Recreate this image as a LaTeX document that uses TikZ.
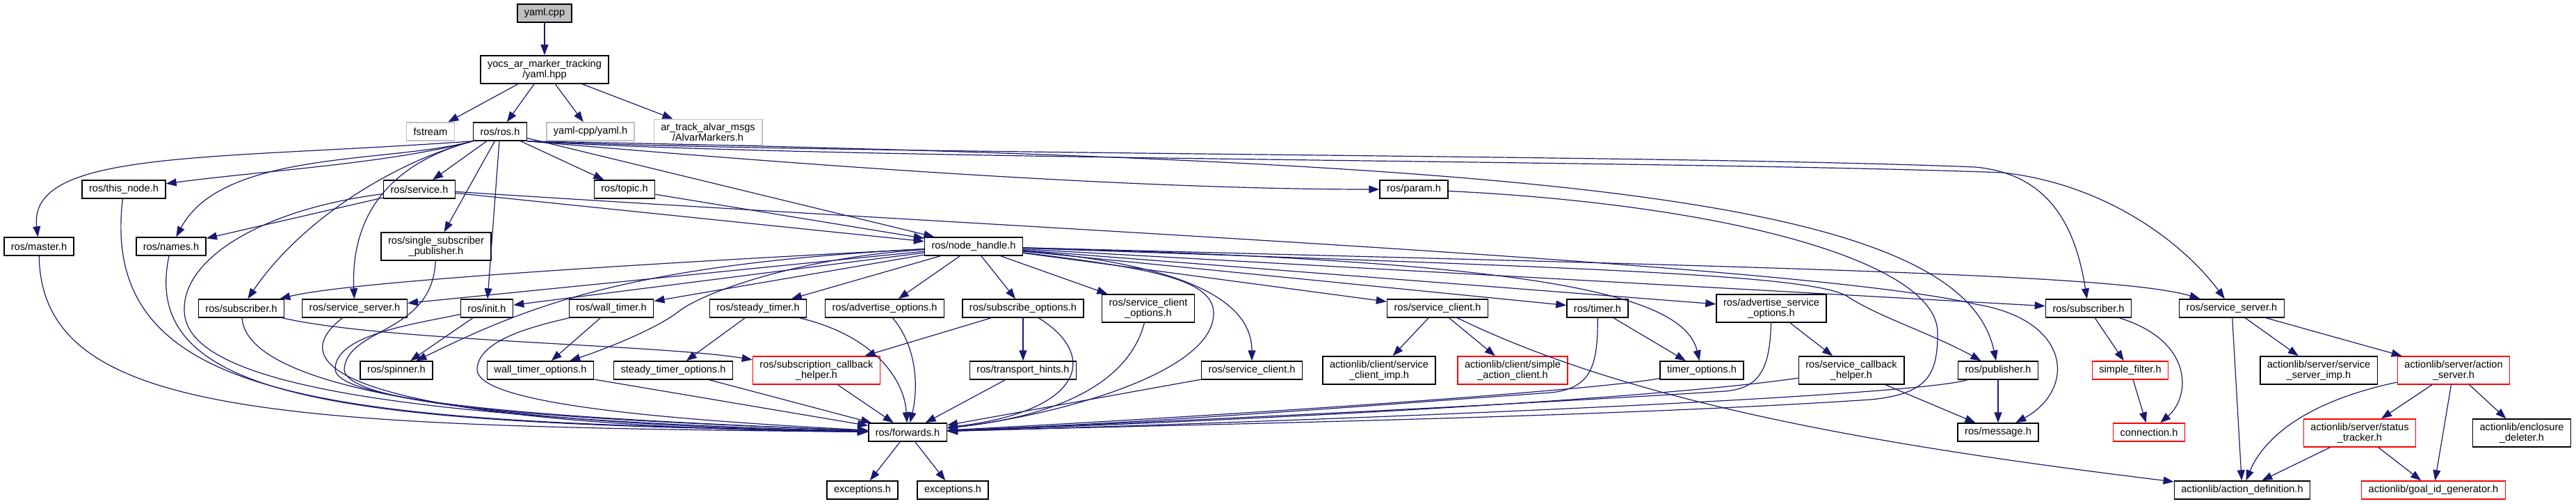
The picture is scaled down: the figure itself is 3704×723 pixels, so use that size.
\documentclass[tikz,border=0pt]{standalone}
\usepackage{fontspec}
\setmainfont{Liberation Sans}
\usetikzlibrary{arrows.meta}
\definecolor{edgeblue}{RGB}{25,25,112}
\definecolor{extgrey}{RGB}{191,191,191}

\begin{document}
\begin{tikzpicture}[
        x=1pt, y=-1pt,
        % Style for an included file
        file/.style={
            rectangle, draw=black, line width=1.5pt, fill=white,
            font=\fontsize{14.6}{14.5}\selectfont, align=center,
            inner xsep=10pt, inner ysep=6pt, minimum height=26pt
        },
        % Style for the documented file itself
        mainfile/.style={file, fill=extgrey},
        % Style for files not found by doxygen
        extfile/.style={file, draw=extgrey},
        % Style for files with a truncated graph
        redfile/.style={file, draw=red},
        inc/.style={draw=edgeblue, line width=1.2pt, -{Triangle[length=15pt, width=11pt]}}
    ]
    \useasboundingbox (0,0) rectangle (3704,723);

    % --- Nodes ---

    % top rows
    \node [mainfile] (yamlcpp) at (783,19) {yaml.cpp};
    \node [file] (yamlhpp) at (783,100) {yocs\_ar\_marker\_tracking\\/yaml.hpp};
    \node [extfile] (fstream) at (619,189) {fstream};
    \node [file] (rosros) at (719,189) {ros/ros.h};
    \node [extfile] (yamlcppyaml) at (849,189) {yaml-cpp/yaml.h};
    \node [extfile] (alvar) at (1018,190) {ar\_track\_alvar\_msgs\\/AlvarMarkers.h};

    \node [file] (thisnode) at (178,272) {ros/this\_node.h};
    \node [file] (service) at (603,272) {ros/service.h};
    \node [file] (topic) at (898,272) {ros/topic.h};
    \node [file] (param) at (2033,272) {ros/param.h};

    \node [file] (master) at (56,354) {ros/master.h};
    \node [file] (names) at (246,354) {ros/names.h};
    \node [file] (singlesub) at (627,354) {ros/single\_subscriber\\\_publisher.h};
    \node [file] (nodehandle) at (1400,354) {ros/node\_handle.h};

    % includes of ros/node_handle.h
    \node [file] (subL) at (347,443) {ros/subscriber.h};
    \node [file] (srvL) at (510,443) {ros/service\_server.h};
    \node [file] (init) at (700,443) {ros/init.h};
    \node [file] (walltimer) at (879,443) {ros/wall\_timer.h};
    \node [file] (steadytimer) at (1090,443) {ros/steady\_timer.h};
    \node [file] (advopt) at (1272,443) {ros/advertise\_options.h};
    \node [file] (subopt) at (1471,443) {ros/subscribe\_options.h};
    \node [file] (srvcliopt) at (1651,443) {ros/service\_client\\\_options.h};
    \node [file] (srvcliU) at (2067,443) {ros/service\_client.h};
    \node [file] (timer) at (2297,443) {ros/timer.h};
    \node [file] (advsrvopt) at (2547,443) {ros/advertise\_service\\\_options.h};
    \node [file] (subR) at (3003,443) {ros/subscriber.h};
    \node [file] (srvR) at (3209,443) {ros/service\_server.h};

    \node [file] (spinner) at (570,532) {ros/spinner.h};
    \node [file] (walltimeropt) at (777,532) {wall\_timer\_options.h};
    \node [file] (steadytimeropt) at (968,532) {steady\_timer\_options.h};
    \node [redfile] (subcb) at (1174,532) {ros/subscription\_callback\\\_helper.h};
    \node [file] (transport) at (1471,532) {ros/transport\_hints.h};
    \node [file] (srvcliM) at (1800,532) {ros/service\_client.h};
    \node [file] (srvcliimp) at (1983,532) {actionlib/client/service\\\_client\_imp.h};
    \node [redfile] (simpleac) at (2175,532) {actionlib/client/simple\\\_action\_client.h};
    \node [file] (timeropt) at (2447,532) {timer\_options.h};
    \node [file] (srvcb) at (2662,532) {ros/service\_callback\\\_helper.h};
    \node [file] (publisher) at (2873,532) {ros/publisher.h};
    \node [redfile] (simplefilter) at (3063,532) {simple\_filter.h};
    \node [file] (srvimp) at (3334,532) {actionlib/server/service\\\_server\_imp.h};
    \node [redfile] (actionserver) at (3528,532) {actionlib/server/action\\\_server.h};

    % bottom rows
    \node [file] (forwards) at (1305,621) {ros/forwards.h};
    \node [file] (message) at (2873,621) {ros/message.h};
    \node [redfile] (connection) at (3090,621) {connection.h};
    \node [redfile] (status) at (3393,622) {actionlib/server/status\\\_tracker.h};
    \node [file] (enclosure) at (3626,622) {actionlib/enclosure\\\_deleter.h};
    \node [file] (exc1) at (1240,704) {exceptions.h};
    \node [file] (exc2) at (1370,704) {exceptions.h};
    \node [file] (actiondef) at (3224,704) {actionlib/action\_definition.h};
    \node [redfile] (goalid) at (3499,704) {actionlib/goal\_id\_generator.h};

    % --- Edges ---

    \draw [inc] (yamlcpp) -- (yamlhpp);
    \foreach \t in {fstream,rosros,yamlcppyaml,alvar}
        \draw [inc] (yamlhpp) -- (\t);

    % ros/ros.h
    \foreach \t in {service,singlesub,topic,init,nodehandle}
        \draw [inc] (rosros) -- (\t);
    \draw [inc] (rosros.south west) .. controls (300,230) and (40,215) .. (master);
    \draw [inc] (rosros.south west) .. controls (560,235) and (380,245) .. (thisnode);
    \draw [inc] (rosros.south west) .. controls (560,235) and (320,215) .. (names);
    \draw [inc] (rosros.south west) .. controls (560,235) and (430,320) .. (subL);
    \draw [inc] (rosros.south west) .. controls (540,240) and (505,330) .. (srvL);
    \draw [inc] (rosros.south east) .. controls (1300,250) and (1700,272) .. (param);
    \draw [inc] (rosros.south east) .. controls (2200,230) and (2820,280) .. (publisher);
    \draw [inc] (rosros.south east) .. controls (1200,222) and (2400,222) .. (2840,240)
        .. controls (2950,250) and (2985,330) .. (subR);
    \draw [inc] (rosros.south east) .. controls (1200,230) and (2400,230) .. (2880,248)
        .. controls (3030,265) and (3140,350) .. (srvR);

    % ros/service.h, ros/topic.h, ros/param.h
    \draw [inc] (service) -- (names);
    \draw [inc] (service) -- (nodehandle);
    \draw [inc] (service) .. controls (380,300) and (262,370) .. (265,447)
        .. controls (268,540) and (500,600) .. (forwards);
    \draw [inc] (service) .. controls (1500,330) and (2600,380) .. (2841,437)
        .. controls (2980,460) and (2985,560) .. (message);
    \draw [inc] (topic) -- (nodehandle);
    \draw [inc] (param) .. controls (2500,295) and (2790,380) .. (2786,480)
        .. controls (2786,540) and (2770,566) .. (2690,574)
        .. controls (2300,600) and (1700,610) .. (forwards);

    % left column into ros/forwards.h
    \draw [inc] (master) .. controls (60,600) and (400,612) .. (forwards);
    \draw [inc] (thisnode) .. controls (140,590) and (500,605) .. (forwards);
    \draw [inc] (names) .. controls (195,590) and (550,608) .. (forwards);
    \draw [inc] (singlesub) .. controls (622,480) and (500,470) .. (495,530)
        .. controls (495,590) and (900,605) .. (forwards);
    \draw [inc] (subL) .. controls (355,560) and (700,610) .. (forwards);
    \draw [inc] (subL) .. controls (550,490) and (950,495) .. (subcb);
    \draw [inc] (srvL) .. controls (360,560) and (700,615) .. (forwards);
    \draw [inc] (init) -- (spinner);
    \draw [inc] (init) .. controls (600,465) and (482,480) .. (482,530)
        .. controls (482,585) and (900,605) .. (forwards);

    % ros/node_handle.h
    \foreach \t in {srvL,init,walltimer,steadytimer,advopt,subopt,srvcliopt,
                    srvcliU,timer,advsrvopt,subR}
        \draw [inc] (nodehandle) -- (\t);
    \draw [inc] (nodehandle) .. controls (900,380) and (500,405) .. (subL);
    \draw [inc] (nodehandle) .. controls (900,380) and (760,440) .. (spinner);
    \draw [inc] (nodehandle) .. controls (1150,370) and (1010,420) .. (975,448)
        .. controls (940,475) and (860,505) .. (walltimeropt);
    \draw [inc] (nodehandle) .. controls (1700,380) and (1800,430) .. (srvcliM);
    \draw [inc] (nodehandle) .. controls (1650,385) and (1745,400) .. (1745,450)
        .. controls (1745,540) and (1500,600) .. (forwards);
    \draw [inc] (nodehandle) .. controls (2200,375) and (2420,420) .. (timeropt);
    \draw [inc] (nodehandle) .. controls (2300,385) and (2600,395) .. (2655,425)
        .. controls (2700,455) and (2780,480) .. (publisher);
    \draw [inc] (nodehandle) .. controls (2600,385) and (3050,395) .. (srvR);

    % timers and options
    \draw [inc] (walltimer) -- (walltimeropt);
    \draw [inc] (walltimer) .. controls (760,470) and (688,490) .. (686,530)
        .. controls (684,575) and (900,600) .. (forwards);
    \draw [inc] (walltimeropt) -- (forwards);
    \draw [inc] (steadytimer) -- (steadytimeropt);
    \draw [inc] (steadytimer) .. controls (1250,480) and (1300,540) .. (forwards);
    \draw [inc] (steadytimeropt) -- (forwards);
    \draw [inc] (advopt) .. controls (1320,500) and (1320,560) .. (forwards);
    \draw [inc] (subopt) -- (subcb);
    \draw [inc] (subopt) -- (transport);
    \draw [inc] (subopt) .. controls (1580,510) and (1560,590) .. (forwards);
    \draw [inc] (subcb) -- (forwards);
    \draw [inc] (transport) -- (forwards);
    \draw [inc] (srvcliopt) .. controls (1620,560) and (1500,600) .. (forwards);
    \draw [inc] (srvcliM) -- (forwards);

    % service client, timer, advertise service options, publisher
    \draw [inc] (srvcliU) -- (srvcliimp);
    \draw [inc] (srvcliU) -- (simpleac);
    \draw [inc] (srvcliU) .. controls (2350,580) and (2700,640) .. (actiondef);
    \draw [inc] (timer) -- (timeropt);
    \draw [inc] (timer) .. controls (2298,530) and (2285,558) .. (2230,564)
        .. controls (2000,580) and (1700,605) .. (forwards);
    \draw [inc] (timeropt) .. controls (2300,560) and (1800,595) .. (forwards);
    \draw [inc] (advsrvopt) -- (srvcb);
    \draw [inc] (advsrvopt) .. controls (2545,530) and (2530,558) .. (2480,562)
        .. controls (2200,580) and (1700,605) .. (forwards);
    \draw [inc] (srvcb) .. controls (2400,570) and (1900,600) .. (forwards);
    \draw [inc] (srvcb) -- (message);
    \draw [inc] (publisher) .. controls (2750,570) and (1900,605) .. (forwards);
    \draw [inc] (publisher) -- (message);

    % subscriber and service server (right)
    \draw [inc] (subR) -- (simplefilter);
    \draw [inc] (subR) .. controls (3155,490) and (3150,570) .. (connection);
    \draw [inc] (simplefilter) -- (connection);
    \foreach \t in {srvimp,actionserver,actiondef}
        \draw [inc] (srvR) -- (\t);
    \draw [inc] (actionserver) .. controls (3300,580) and (3250,640) .. (actiondef);
    \foreach \t in {status,goalid,enclosure}
        \draw [inc] (actionserver) -- (\t);
    \draw [inc] (status) -- (actiondef);
    \draw [inc] (status) -- (goalid);

    \draw [inc] (forwards) -- (exc1);
    \draw [inc] (forwards) -- (exc2);

\end{tikzpicture}
\end{document}
